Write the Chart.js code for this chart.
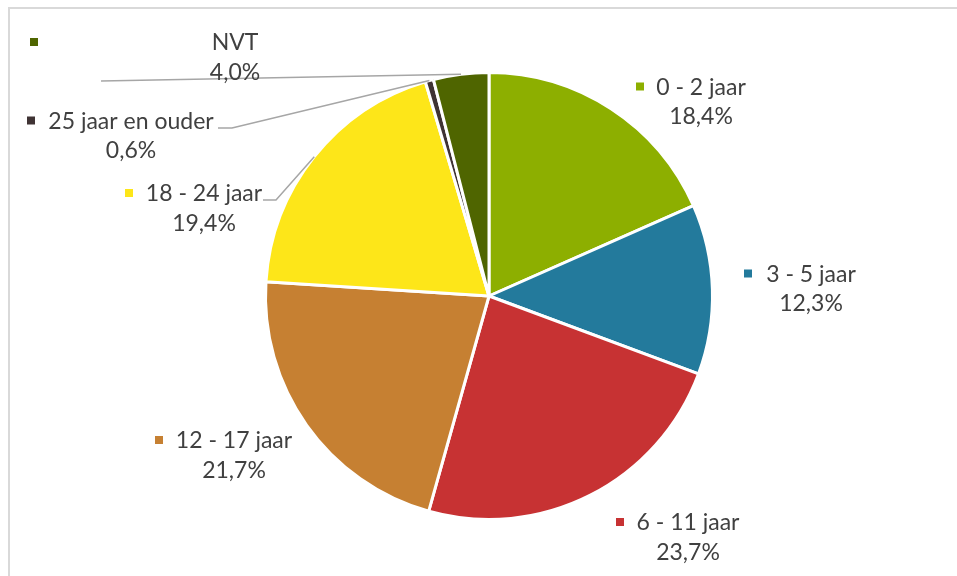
<!DOCTYPE html>
<html>
<head>
<meta charset="utf-8">
<script src="https://cdn.jsdelivr.net/npm/chart.js@4/dist/chart.umd.min.js"></script>
<style>
  html, body { margin: 0; padding: 0; background: #fff; }
  canvas { display: block; }
</style>
</head>
<body>
<canvas id="pie-chart" width="957" height="576"></canvas>
<script>
// leeftijdscategorieen en aandelen (%)
const categories = ['0 - 2 jaar', '3 - 5 jaar', '6 - 11 jaar', '12 - 17 jaar', '18 - 24 jaar', '25 jaar en ouder', 'NVT'];
const shares = [18.4, 12.3, 23.7, 21.7, 19.4, 0.6, 4.0];
const sliceColors = ['#8DAF00', '#237A9C', '#C73233', '#C68032', '#FDE619', '#3F3334', '#4F6500'];

// label placement: text centre x, baseline of first line, marker left x
const labelCx = [701, 811, 688, 234, 204, 131, 235];
const labelY = [94.5, 281.5, 530, 448, 201, 128.5, 50];
const markerX = [636, 744, 616, 155, 125, 27, 30];
// leader lines (start points, elbow) for the small slices, null = none
const leaderPts = [null, null, null, null, [[263, 200], [276, 200]], [[218, 128], [232, 128]], [[101, 81]]];

const labelFont = '23px Lato';
const textColor = '#404040';

const fmtPct = (v) => v.toFixed(1).replace('.', ',') + '%';

const labelPlugin = {
    id: 'excelLabels',
    afterDraw(chart) {
        const ctx = chart.ctx;
        // frame of the chart area (only top and left visible)
        ctx.save();
        ctx.fillStyle = '#D9D9D9';
        ctx.fillRect(8, 7, 949, 2);
        ctx.fillRect(8, 7, 2, 569);

        const arcs = chart.getDatasetMeta(0).data;
        // leader lines
        ctx.strokeStyle = '#A6A6A6';
        ctx.lineWidth = 1.5;
        arcs.forEach((arc, i) => {
            const pts = leaderPts[i];
            if (!pts) return;
            const p = arc.getProps(['x', 'y', 'startAngle', 'endAngle', 'outerRadius'], true);
            const mid = (p.startAngle + p.endAngle) / 2;
            const ex = p.x + Math.cos(mid) * p.outerRadius;
            const ey = p.y + Math.sin(mid) * p.outerRadius;
            ctx.beginPath();
            ctx.moveTo(pts[0][0], pts[0][1]);
            for (let k = 1; k < pts.length; k++) ctx.lineTo(pts[k][0], pts[k][1]);
            ctx.lineTo(ex, ey);
            ctx.stroke();
        });

        // labels
        ctx.font = labelFont;
        ctx.textAlign = 'center';
        ctx.textBaseline = 'alphabetic';
        categories.forEach((name, i) => {
            ctx.fillStyle = sliceColors[i];
            ctx.fillRect(markerX[i], labelY[i] - 12, 8, 8);
            ctx.fillStyle = textColor;
            ctx.fillText(name, labelCx[i], labelY[i]);
            ctx.fillText(fmtPct(shares[i]), labelCx[i], labelY[i] + 29.5);
        });
        ctx.restore();
    }
};

const chartConfig = {
    type: 'pie',
    data: {
        labels: categories,
        datasets: [{
            data: shares,
            backgroundColor: sliceColors,
            borderColor: '#FFFFFF',
            borderWidth: 3
        }]
    },
    options: {
        responsive: false,
        animation: false,
        devicePixelRatio: 1,
        layout: { padding: { top: 71, bottom: 55, left: 21, right: 0 } },
        plugins: {
            legend: { display: false },
            tooltip: { enabled: false }
        }
    },
    plugins: [labelPlugin]
};

new Chart(document.querySelector('#pie-chart').getContext('2d'), chartConfig);
</script>
</body>
</html>
